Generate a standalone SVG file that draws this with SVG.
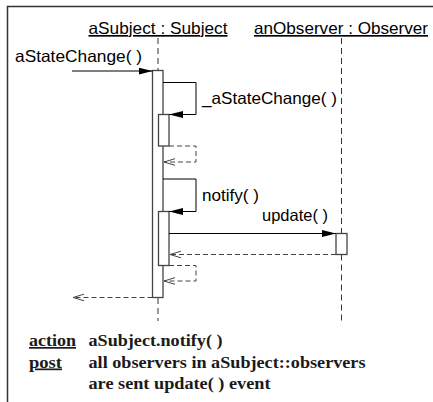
<svg xmlns="http://www.w3.org/2000/svg" width="433" height="402" viewBox="0 0 433 402">
<defs>
<style>
.frame{stroke:#333;stroke-width:1.5;fill:none}
.title{font-family:"Liberation Sans",Arial,sans-serif;font-size:16.5px;fill:#000;text-decoration:underline}
.lbl{font-family:"Liberation Sans",Arial,sans-serif;font-size:16.5px;fill:#000}
.life{stroke:#333;stroke-width:1;stroke-dasharray:6,4;fill:none}
.bar{fill:#fff;stroke:#444;stroke-width:1.3}
.msg{stroke:#000;stroke-width:1;fill:none;marker-end:url(#filled)}
.ret{stroke:#444;stroke-width:1;stroke-dasharray:5,3;fill:none;marker-end:url(#open)}
.note{font-family:"Liberation Serif","Times New Roman",serif;font-size:17px;font-weight:bold;fill:#1a1a1a}
.kw{text-decoration:underline}
</style>
<marker id="filled" markerUnits="userSpaceOnUse" markerWidth="16" markerHeight="10" refX="14" refY="4" orient="auto">
<path d="M0,0.5 L14,4 L0,7.5 Z" fill="#000"/>
</marker>
<marker id="open" markerUnits="userSpaceOnUse" markerWidth="14" markerHeight="10" refX="11" refY="4" orient="auto">
<path d="M0,0.7 L11,4 L0,7.3" fill="none" stroke="#444" stroke-width="1"/>
</marker>
</defs>
<rect width="433" height="402" fill="#fff"/>
<path class="frame" d="M7.5,402 L7.5,6.5 L433,6.5"/>

<g id="aSubject">
<text class="title" x="88.5" y="34" textLength="139" lengthAdjust="spacingAndGlyphs">aSubject : Subject</text>
<line class="life" x1="158" y1="38" x2="158" y2="70"/>
<line class="life" x1="158" y1="298" x2="158" y2="321"/>
<rect class="bar" x="152.5" y="70.5" width="10.5" height="227"/>
<rect class="bar" x="158.5" y="114.5" width="10.5" height="31.5"/>
<rect class="bar" x="158.5" y="211.5" width="10.5" height="54"/>
</g>

<g id="anObserver">
<text class="title" x="254" y="34" textLength="174" lengthAdjust="spacingAndGlyphs">anObserver : Observer</text>
<line class="life" x1="341.5" y1="38" x2="341.5" y2="233.5"/>
<line class="life" x1="341.5" y1="254.5" x2="341.5" y2="321"/>
<rect class="bar" x="336" y="233.5" width="11" height="21"/>
</g>

<g id="connectors">
<line class="msg" x1="72" y1="71" x2="152.5" y2="71"/>
<text class="lbl" x="15" y="62" textLength="127" lengthAdjust="spacingAndGlyphs">aStateChange( )</text>
<polyline class="msg" points="163,82.5 196,82.5 196,114.5 169,114.5"/>
<text class="lbl" x="202" y="104" textLength="135" lengthAdjust="spacingAndGlyphs">_aStateChange( )</text>
<polyline class="ret" points="169,146 196,146 196,162 164,162"/>
<polyline class="msg" points="163,179 196,179 196,211.5 169,211.5"/>
<text class="lbl" x="202" y="200.5" textLength="57" lengthAdjust="spacingAndGlyphs">notify( )</text>
<line class="msg" x1="169" y1="233.5" x2="336" y2="233.5"/>
<text class="lbl" x="262" y="220.5" textLength="66" lengthAdjust="spacingAndGlyphs">update( )</text>
<line class="ret" x1="336" y1="254.5" x2="170" y2="254.5"/>
<polyline class="ret" points="169,265.5 196,265.5 196,281 164,281"/>
<line class="ret" x1="152.5" y1="297.5" x2="73" y2="297.5"/>
</g>

<g id="note">
<text class="note kw" x="29" y="346" textLength="47" lengthAdjust="spacingAndGlyphs">action</text>
<text class="note" x="88.5" y="346" textLength="134" lengthAdjust="spacingAndGlyphs">aSubject.notify( )</text>
<text class="note kw" x="29" y="367.5" textLength="33" lengthAdjust="spacingAndGlyphs">post</text>
<text class="note" x="88.5" y="367.5" textLength="277" lengthAdjust="spacingAndGlyphs">all observers in aSubject::observers</text>
<text class="note" x="88.5" y="388.5" textLength="182" lengthAdjust="spacingAndGlyphs">are sent update( ) event</text>
</g>
</svg>
